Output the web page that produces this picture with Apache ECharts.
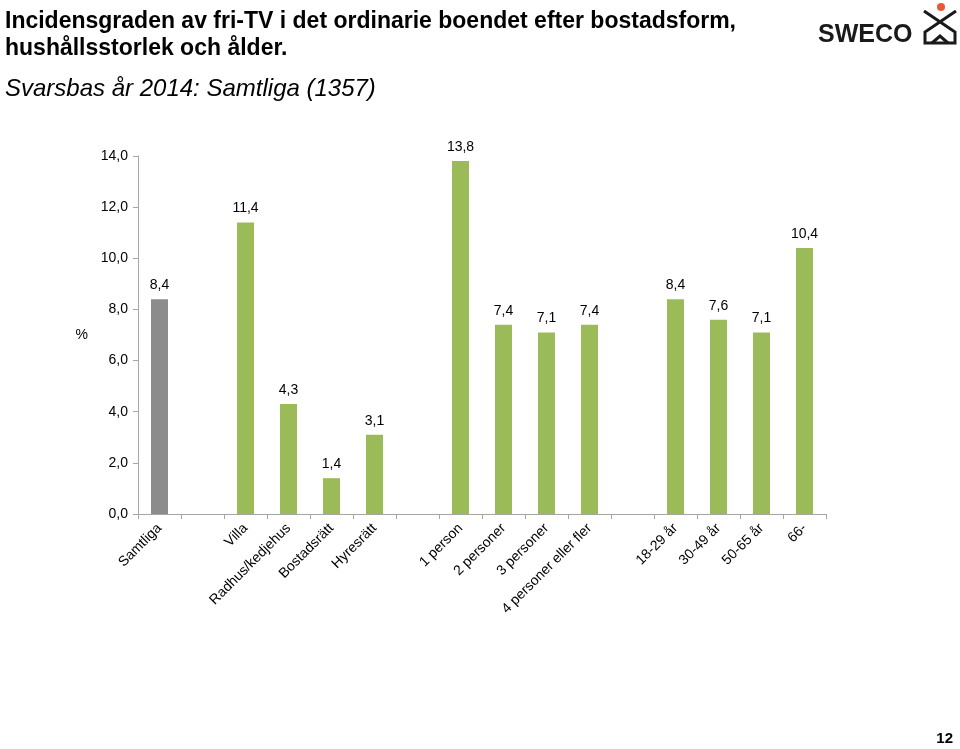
<!DOCTYPE html>
<html><head><meta charset="utf-8">
<script src="https://cdn.jsdelivr.net/npm/echarts@6/dist/echarts.min.js"></script>
<style>html,body{margin:0;padding:0;background:#fff}#c{width:960px;height:749px}</style>
</head><body><div id="c"></div>
<script>
var categories = ['Samtliga', '', 'Villa', 'Radhus/kedjehus', 'Bostadsrätt', 'Hyresrätt', ' ', '1 person', '2 personer', '3 personer', '4 personer eller fler', '  ', '18-29 år', '30-49 år', '50-65 år', '66-'];
var values = [8.4, null, 11.4, 4.3, 1.4, 3.1, null, 13.8, 7.4, 7.1, 7.4, null, 8.4, 7.6, 7.1, 10.4];
var yTicks = [0, 2, 4, 6, 8, 10, 12, 14];
var grayColor = '#8c8c8c', greenColor = '#9bbb59';
var FONT = 'Liberation Sans, Arial, sans-serif';
function fmt(v){ return Number(v).toFixed(1).replace('.', ','); }

var data = values.map(function(v, i){
  if (v === null) return '-';
  return { value: v, itemStyle: { color: i === 0 ? grayColor : greenColor } };
});

var chart = echarts.init(document.getElementById('c'), null, {renderer: 'canvas'});
chart.setOption({
  animation: false,
  backgroundColor: '#fff',
  textStyle: { fontFamily: FONT },
  grid: { left: 138, right: 134, top: 156, bottom: 235, containLabel: false },
  xAxis: {
    type: 'category', data: categories, boundaryGap: true,
    axisLine: { lineStyle: { color: '#a6a6a6', width: 1 } },
    axisTick: { show: true, alignWithLabel: false, length: 5, lineStyle: { color: '#a6a6a6' } },
    axisLabel: { rotate: 45, interval: 0, color: '#000', fontSize: 14, fontFamily: FONT, margin: 12 }
  },
  yAxis: {
    type: 'value', min: yTicks[0], max: yTicks[yTicks.length - 1], interval: 2,
    name: '%', nameLocation: 'middle', nameRotate: 0, nameGap: 50,
    nameTextStyle: { color: '#000', fontSize: 14, fontFamily: FONT },
    axisLine: { show: true, lineStyle: { color: '#a6a6a6' } },
    axisTick: { show: true, length: 5, lineStyle: { color: '#a6a6a6' } },
    splitLine: { show: false },
    axisLabel: { color: '#000', fontSize: 14, fontFamily: FONT, margin: 10, formatter: function(v){ return fmt(v); } }
  },
  series: [{
    type: 'bar', data: data, barWidth: 17,
    label: { show: true, position: 'top', distance: 7, color: '#000', fontSize: 14, fontFamily: FONT,
      formatter: function(p){ return fmt(p.value); } }
  }],
  graphic: [
    { type: 'text', left: 5, top: 8, style: { text: 'Incidensgraden av fri-TV i det ordinarie boendet efter bostadsform,\nhushållsstorlek och ålder.', font: 'bold 23px ' + FONT, fill: '#000', lineHeight: 27 } },
    { type: 'text', left: 5, top: 77, style: { text: 'Svarsbas år 2014: Samtliga (1357)', font: 'italic 24px ' + FONT, fill: '#000' } },
    { type: 'text', left: 818, top: 23, style: { text: 'SWECO', font: '900 25px ' + FONT, fill: '#1a1a1a' } },
    { type: 'circle', shape: { cx: 941, cy: 7, r: 4 }, style: { fill: '#e8593a' } },
    { type: 'polyline', shape: { points: [[924, 11], [955, 32], [955, 43], [925, 43], [925, 32], [956, 11]] }, style: { stroke: '#1a1a1a', lineWidth: 3, fill: null } },
    { type: 'polyline', shape: { points: [[932, 43], [940, 36], [948, 43]] }, style: { stroke: '#1a1a1a', lineWidth: 3, fill: null } },
    { type: 'text', right: 7, top: 731, style: { text: '12', font: 'bold 15px ' + FONT, fill: '#000' } }
  ]
});
</script></body></html>
